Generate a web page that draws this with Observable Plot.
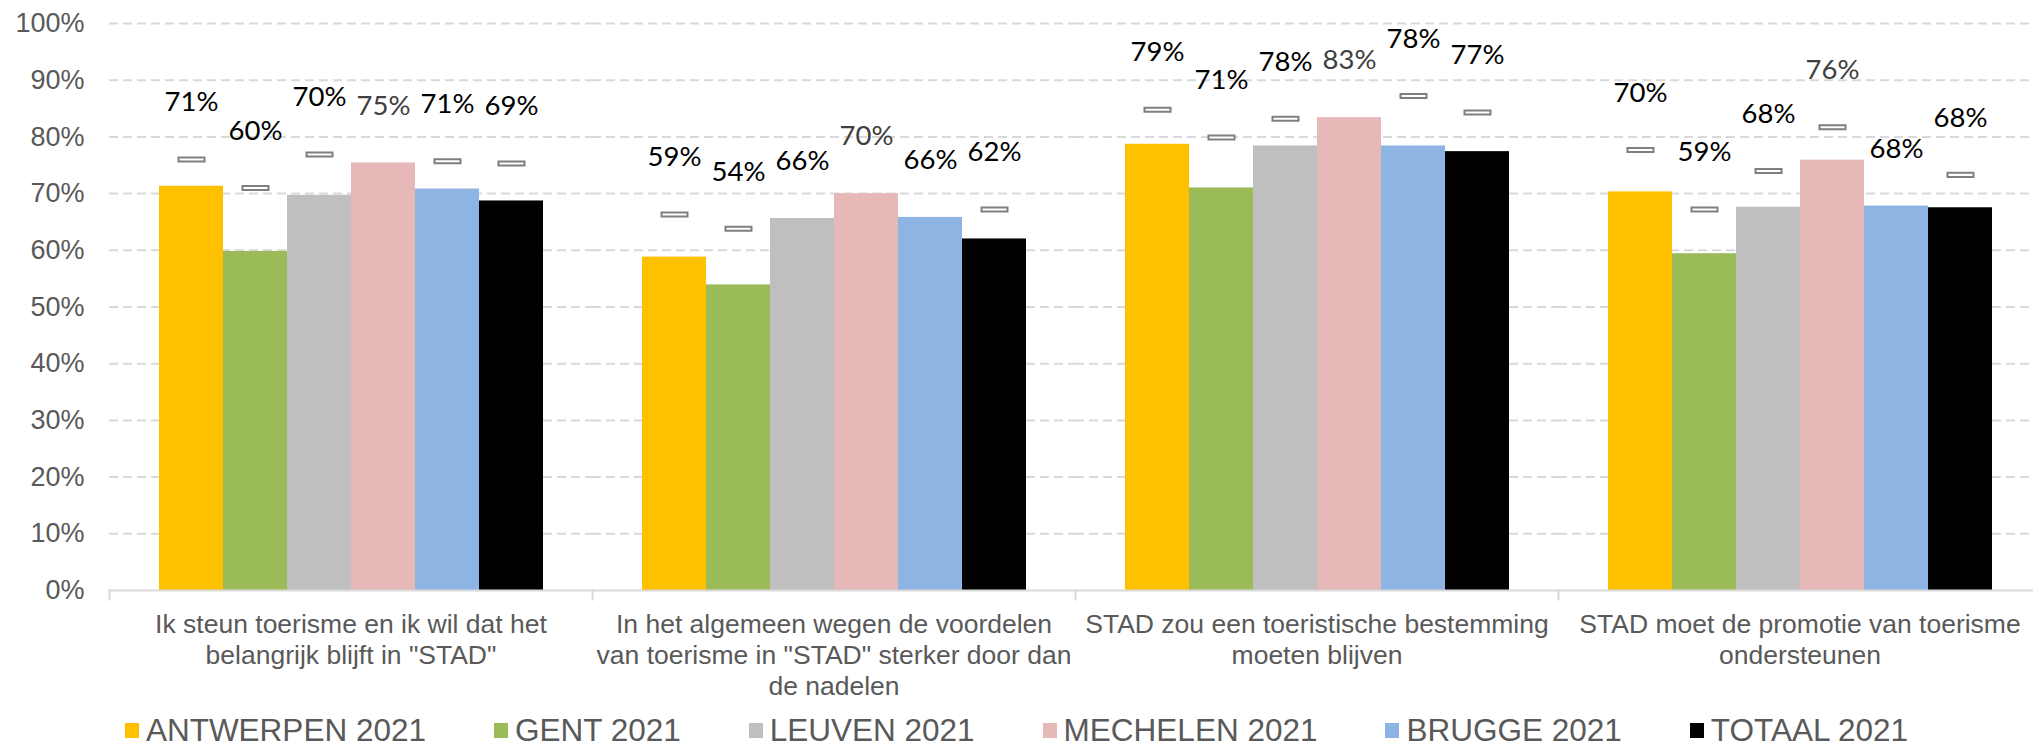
<!DOCTYPE html>
<html>
<head>
<meta charset="utf-8">
<script src="https://cdn.jsdelivr.net/npm/d3@7"></script>
<script src="https://cdn.jsdelivr.net/npm/@observablehq/plot@0.6"></script>
<style>
  html, body { margin: 0; padding: 0; background: #fff; overflow: hidden; }
  #chart svg { display: block; }
  #legend {
    display: flex; justify-content: center; align-items: center;
    gap: 68px; height: 50px;
    font-family: "Liberation Sans", Arial, sans-serif; font-size: 31.5px; color: #595959;
    white-space: nowrap;
  }
  #legend .item { display: flex; align-items: center; }
  #legend .sw { width: 14px; height: 15px; margin-right: 7px; }
</style>
</head>
<body>
<div id="chart"></div>
<div id="legend"></div>
<script>
// ---- data ----
const categories = [
  "Ik steun toerisme en ik wil dat het\nbelangrijk blijft in \"STAD\"",
  "In het algemeen wegen de voordelen\nvan toerisme in \"STAD\" sterker door dan\nde nadelen",
  "STAD zou een toeristische bestemming\nmoeten blijven",
  "STAD moet de promotie van toerisme\nondersteunen"
];
const series = ["ANTWERPEN 2021", "GENT 2021", "LEUVEN 2021", "MECHELEN 2021", "BRUGGE 2021", "TOTAAL 2021"];
const colors = ["#FFC000", "#9BBB59", "#BFBFBF", "#E6B9B8", "#8EB4E3", "#000000"];

// 2021 values (bars), per category
const antwerpen = [71.3, 58.8, 78.7, 70.3];
const gent      = [59.8, 53.9, 71.0, 59.4];
const leuven    = [69.7, 65.6, 78.4, 67.6];
const mechelen  = [75.4, 70.0, 83.4, 75.9];
const brugge    = [70.8, 65.8, 78.4, 67.8];
const totaal    = [68.7, 62.0, 77.4, 67.5];

// previous measurement (markers), per category
const antwerpenVorige = [76.0, 66.3, 84.8, 77.7];
const gentVorige      = [71.0, 63.8, 79.9, 67.2];
const leuvenVorige    = [76.9, null, 83.2, 74.0];
const mechelenVorige  = [null, null, null, 81.7];
const bruggeVorige    = [75.7, null, 87.2, null];
const totaalVorige    = [75.3, 67.2, 84.3, 73.3];

const tickValues = [0, 10, 20, 30, 40, 50, 60, 70, 80, 90, 100];

// ---- table ----
const values = [antwerpen, gent, leuven, mechelen, brugge, totaal];
const vorige = [antwerpenVorige, gentVorige, leuvenVorige, mechelenVorige, bruggeVorige, totaalVorige];
const rows = [];
categories.forEach((c, i) => series.forEach((s, j) => rows.push({cat: c, series: s, value: values[j][i], prev: vorige[j][i]})));

// flat rectangle marker symbol
const rectSymbol = {
  draw(ctx, size) {
    const r = Math.sqrt(size / Math.PI);
    const w = r, h = r * 0.155;
    ctx.moveTo(-w, -h); ctx.lineTo(w, -h); ctx.lineTo(w, h); ctx.lineTo(-w, h); ctx.closePath();
  }
};

const labelY = d => Math.max(d.value, d.prev ?? 0);
const labelText = d => `${Math.round(d.value)}%`;

const chart = Plot.plot({
  width: 2033,
  height: 705,
  marginLeft: 108,
  marginRight: -9,
  marginTop: 23,
  marginBottom: 115,
  style: {fontFamily: "'Liberation Sans', Arial, sans-serif", color: "#595959", background: "#fff"},
  fx: {domain: categories, padding: 0, axis: null},
  x: {domain: series, paddingInner: 0, paddingOuter: 0.75, axis: null},
  y: {domain: [0, 100], axis: null},
  color: {domain: series, range: colors},
  marks: [
    Plot.ruleY(tickValues.filter(v => v > 0), {stroke: "#d9d9d9", strokeWidth: 2, strokeDasharray: "9,5"}),
    Plot.barY(rows, {fx: "cat", x: "series", y: "value", fill: "series"}),
    Plot.ruleY([0], {stroke: "#d9d9d9", strokeWidth: 2}),
    Plot.frame({anchor: "left", stroke: "#d9d9d9", strokeWidth: 2, insetTop: 567, insetBottom: -9}),
    Plot.dot(rows, {fx: "cat", x: "series", y: "prev", symbol: rectSymbol, r: 13, fill: "white", stroke: "#7f7f7f", strokeWidth: 2}),
    Plot.text(rows, {filter: d => d.series !== "MECHELEN 2021", fx: "cat", x: "series", y: labelY, dy: -57, text: labelText, fill: "#000", fontFamily: "Lato", fontSize: 27.5}),
    Plot.text(rows, {filter: d => d.series === "MECHELEN 2021", fx: "cat", x: "series", y: labelY, dy: -57, text: labelText, fill: "#404040", fontFamily: "Lato", fontSize: 27.5}),
    Plot.text(categories, {fx: d => d, text: d => d, frameAnchor: "bottom", lineAnchor: "top", dy: 20, fontSize: 26.5, lineHeight: 1.17, fill: "#595959"}),
    Plot.axisY(tickValues, {tickSize: 0, tickPadding: 25, fontSize: 27, tickFormat: d => d + "%", label: null})
  ]
});
document.getElementById("chart").appendChild(chart);

const legend = document.getElementById("legend");
series.forEach((s, i) => {
  const item = document.createElement("div");
  item.className = "item";
  const sw = document.createElement("span");
  sw.className = "sw";
  sw.style.background = colors[i];
  const t = document.createElement("span");
  t.textContent = s;
  item.appendChild(sw); item.appendChild(t);
  legend.appendChild(item);
});
</script>
</body>
</html>
